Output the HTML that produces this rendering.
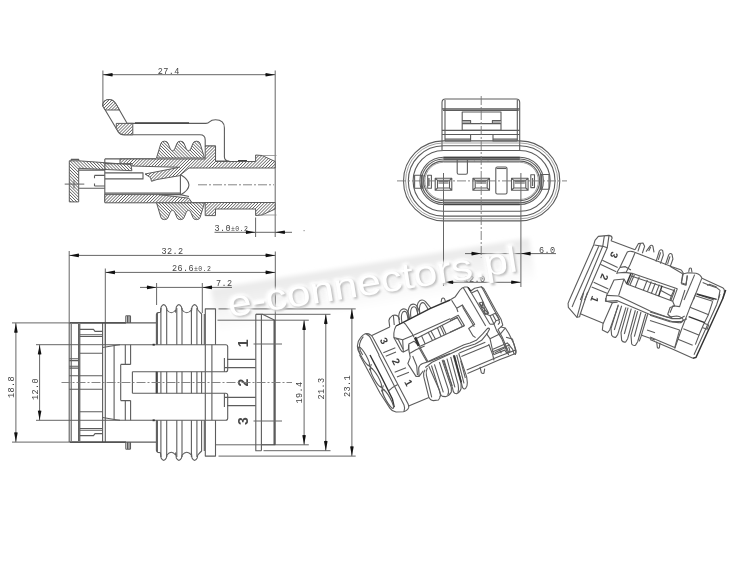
<!DOCTYPE html>
<html><head><meta charset="utf-8"><title>connector drawing</title>
<style>
html,body{margin:0;padding:0;background:#fff;}
svg{display:block;filter:grayscale(1) blur(.3px)}
.l{fill:none;stroke:#5c5c5c;stroke-width:1.1;stroke-linecap:butt;stroke-linejoin:round}
.t{fill:none;stroke:#8a8a8a;stroke-width:.8}
.d{fill:none;stroke:#666;stroke-width:1}
.c{fill:none;stroke:#777;stroke-width:.9;stroke-dasharray:9 2 2 2}
.a{fill:#111;stroke:none}
.w{fill:#fff;stroke:#5c5c5c;stroke-width:1.1;stroke-linejoin:round}
text{font-family:"Liberation Mono","DejaVu Sans Mono",monospace;fill:#444}
.dt{font-size:8.5px;letter-spacing:.4px}
.ws{font-family:"Liberation Sans",Arial,sans-serif;font-size:36.5px}
.nb{font-family:"Liberation Sans",Arial,sans-serif;font-weight:bold;font-size:78px;fill:#3c3c3c;text-anchor:middle}
.n3{font-family:"Liberation Sans",Arial,sans-serif;font-weight:bold;font-size:14px;fill:#4a4a4a;text-anchor:middle}
.h1{fill:url(#hf);stroke:#5c5c5c;stroke-width:1;stroke-linejoin:round}
.h2{fill:url(#hb);stroke:#5c5c5c;stroke-width:1;stroke-linejoin:round}
</style></head><body>
<svg width="750" height="564" viewBox="0 0 750 564">
<defs>
<pattern id="hf" width="2.2" height="2.2" patternUnits="userSpaceOnUse" patternTransform="rotate(-45)"><rect width="2.2" height="2.2" fill="#fff"/><line x1="0" y1="0" x2="2.2" y2="0" stroke="#3a3a3a" stroke-width="1.2"/></pattern>
<pattern id="hb" width="2.2" height="2.2" patternUnits="userSpaceOnUse" patternTransform="rotate(45)"><rect width="2.2" height="2.2" fill="#fff"/><line x1="0" y1="0" x2="2.2" y2="0" stroke="#3a3a3a" stroke-width="1.2"/></pattern>
<path id="ar" d="M0 0 L9.5 -1.8 Q10.3 0 9.5 1.8 Z"/>
</defs>
<rect width="750" height="564" fill="#fff"/>
<!-- BEGIN band -->
<defs>
<linearGradient id="bg" x1="0" y1="0" x2="0" y2="1"><stop offset="0" stop-color="#e9e9e9"/><stop offset=".45" stop-color="#f3f3f3"/><stop offset="1" stop-color="#fff"/></linearGradient>
<filter id="b4" x="-5%" y="-30%" width="110%" height="160%"><feGaussianBlur stdDeviation="2.2"/></filter>
</defs>
<g id="band" transform="translate(229.7 317) rotate(-9.06)"><rect x="-14" y="-30.5" width="322" height="44" fill="url(#bg)" filter="url(#b4)"/></g>
<!-- END band -->

<!-- ============ VIEW 1 : cross-section (top-left) ============ -->
<g id="v1">
<!-- dimension 27.4 -->
<path class="d" d="M102.9 70.5V106 M275.2 70.5V237 M102.9 74.7H275.2"/>
<use href="#ar" class="a" transform="translate(102.9 74.7)"/>
<use href="#ar" class="a" transform="translate(275.2 74.7) scale(-1 1)"/>
<text class="dt" x="168.8" y="74" text-anchor="middle">27.4</text>
<!-- latch -->
<path class="w" d="M102.8 106 Q102.8 99.5 109.5 99.5 Q113.5 99.5 116 104 L127.2 123.4 H206 Q208 123.4 209.5 121.8 Q211.5 119.8 215.5 119.8 Q224.4 119.8 224.4 128 V157 Q224.6 160.8 229 161 H215.5 V146 H205.2 V140 Q205.2 134.8 200 134.8 H124 Q120.5 134.8 118.2 131.8 L102.8 106Z"/>
<path class="h1" d="M102.8 106 Q102.8 99.5 109.5 99.5 Q113.5 99.5 116 104 L119.5 110 H105.2Z"/>
<path class="h1" d="M116.3 123.4H132.8V134.8H124Q120.5 134.8 118.2 131.8L116.3 128.5Z"/>
<path d="M135 123H189 M238 160.6H247" stroke="#444" stroke-width="1.3" fill="none"/>

<!-- cap -->
<path class="h2" d="M69.3 160.8H78.7L131 164.6L131.9 170.7L78.7 168.3V201.9H69.3Z"/>
<path class="l" d="M71.2 160.8V159.4H78.7V160.8"/>
<path class="d" d="M64.7 184.1H84.3 M74 180V188.4"/>
<path class="l" d="M78.7 170.1H104.8 M78.7 188.2H104.8 M94.5 175.4H104.8 M94.5 186H104.8 M94.5 175.4V178.2 M94.5 183.6V186"/>
<!-- housing outer -->
<path class="l" d="M104.8 158.9V201.9 M104.8 158.9H156 M104.8 163.6H120 M104.8 172.9H143V178.9H104.8 M104.8 193.1H180.4"/>
<!-- top wall hatch -->
<path class="h1" d="M120 159H205.2V146H215.5V161.5H255.6V155L262 155.5L275.2 161.5V168H189L179.5 175.7L157 179.5L151.5 181.3L150.5 177.6L145 174L179.5 167.3L132 166V163.6H120Z"/>
<!-- bottom wall hatch -->
<path class="h1" d="M104.8 194.6H159L188.8 198.2L192 202.5H275.2V209L262 215L255.6 215.5V209H215.5V215.6H205.2V202.8H104.8Z"/>
<path class="l" d="M159 194.6H180.4L189 196.5"/>
<!-- seal dome -->
<path class="l" d="M180.4 174.5V195 M180.4 174.5Q197.5 185 180.4 195"/>
<!-- seal ribs -->
<path class="h2" d="M156.5 158 L160.9 143.4 Q161.5 141.2 164.5 141.2 Q167.5 141.2 168.1 143.4 L170.3 149.0 Q172.5 152.5 174.7 149.0 L176.9 143.4 Q177.5 141.2 180.5 141.2 Q183.5 141.2 184.1 143.4 L186.3 149.0 Q188.5 152.5 190.7 149.0 L192.9 143.4 Q193.5 141.2 196.5 141.2 Q199.5 141.2 200.1 143.4 L204.5 158Z"/>
<path class="h2" d="M156.5 202.8 L160.9 217.4 Q161.5 219.6 164.5 219.6 Q167.5 219.6 168.1 217.4 L170.3 212.0 Q172.5 208.5 174.7 212.0 L176.9 217.4 Q177.5 219.6 180.5 219.6 Q183.5 219.6 184.1 217.4 L186.3 212.0 Q188.5 208.5 190.7 212.0 L192.9 217.4 Q193.5 219.6 196.5 219.6 Q199.5 219.6 200.1 217.4 L204.5 202.8Z"/>
<!-- barb thin lines -->
<path class="t" d="M262 155.5H276.5 M262 215H276.5"/>
<!-- center line -->
<path class="c" d="M198 184.8H274"/>
<!-- dim 3.0 -->
<path class="d" d="M255.6 217.5V237 M214.5 232.3H292"/>
<use href="#ar" class="a" transform="translate(255.6 232.3) scale(-1 1)"/>
<use href="#ar" class="a" transform="translate(275.2 232.3)"/>
<text class="dt" x="214.5" y="230.5">3.0<tspan font-size="6.5px">±0.2</tspan></text>
<rect x="303.5" y="230" width="1.2" height="1.2" fill="#999"/>
</g>
<!-- ============ VIEW 2 : front view ============ -->
<g id="v2">
<path class="l" d="M442 150.3V102.5Q442 99 445.5 99H516.2Q519.7 99 519.7 102.5V150.3"/>
<path class="l" d="M445 100V141 M517.3 100V141 M442 108.9H519.7 M443 110.4H518.7 M442 130.4H519.7 M442 134.5H519.7"/>
<path class="l" d="M462.2 112H501V130.4H462.2Z M462.2 120.5H470.6V123.6 M501 120.5H492.4V123.6 M462.2 123.6H501 M463 122H470 M493 122H500"/>
<path class="l" d="M445 139.1H470.6 M445 141H470.6V134.5 M493 139.1H517.3 M517.3 141H493V134.5"/>
<path class="l"  d="M443.5 140.9H519.8A40 40 0 0 1 519.8 220.9H443.5A40 40 0 0 1 443.5 140.9Z"/>
<path class="t"  d="M443.5 143.0H519.8A37.9 37.9 0 0 1 519.8 218.8H443.5A37.9 37.9 0 0 1 443.5 143.0Z"/>
<path class="l"  d="M443.5 145.7H519.8A35.2 35.2 0 0 1 519.8 216.1H443.5A35.2 35.2 0 0 1 443.5 145.7Z"/>
<path class="l"  d="M443.5 150.5H519.8A30.4 30.4 0 0 1 519.8 211.3H443.5A30.4 30.4 0 0 1 443.5 150.5Z"/>
<path class="l"  d="M443.5 157.3H519.8A23.6 23.6 0 0 1 519.8 204.5H443.5A23.6 23.6 0 0 1 443.5 157.3Z"/>
<path class="l"  d="M443.5 159.0H519.8A21.9 21.9 0 0 1 519.8 202.8H443.5A21.9 21.9 0 0 1 443.5 159.0Z"/>
<path class="l"  d="M443.5 161.1H519.8A19.8 19.8 0 0 1 519.8 200.7H443.5A19.8 19.8 0 0 1 443.5 161.1Z"/>
<path class="t"  d="M443.5 162.3H519.8A18.6 18.6 0 0 1 519.8 199.5H443.5A18.6 18.6 0 0 1 443.5 162.3Z"/>
<path d="M443.5 157.6H519.8 M443.5 204.4H519.8" stroke="#444" stroke-width="1.6" fill="none"/>
<path class="l" d="M443.5 159.4H519.8 M443.5 202.3H519.8"/>
<path class="l" d="M457.2 159.7V172.7Q457.2 174.2 458.7 174.2H465.9Q467.4 174.2 467.4 172.7V159.7"/>
<path class="w" d="M495.8 168.5Q495.8 167 497.3 167H505.5Q507 167 507 168.5V192.5Q507 194 505.5 194H497.3Q495.8 194 495.8 192.5Z"/>
<path class="l" d="M496.5 168.5H506.3"/>
<path class="l" d="M414.6 175.3H423V188.3H414.6Z M421.5 175.3V188.3 M427.7 175.3H431.4V188.3H427.7Z M429 178V186"/>
<path class="l" d="M540.2 174.5H549V189.2H540.2Z M541.7 174.5V189.2 M530.8 174.8H534.5V187.6H530.8Z M532.6 178V186"/>
<path class="l" d="M435.2 178.2H451.8V190.2H435.2Z M437.5 180.3H449.5V188H437.5Z M435.2 178.2L437.5 180.3 M451.8 178.2L449.5 180.3 M435.2 190.2L437.5 188 M451.8 190.2L449.5 188"/>
<path d="M438.5 181.3H448.5 M438.5 183H448.5" stroke="#555" stroke-width="1" fill="none"/>
<path class="l" d="M472.9 178.2H489.5V190.2H472.9Z M475.2 180.3H487.2V188H475.2Z M472.9 178.2L475.2 180.3 M489.5 178.2L487.2 180.3 M472.9 190.2L475.2 188 M489.5 190.2L487.2 188"/>
<path d="M476.2 181.3H486.2 M476.2 183H486.2" stroke="#555" stroke-width="1" fill="none"/>
<path class="l" d="M511.5 178.2H528.1V190.2H511.5Z M513.8 180.3H525.8V188H513.8Z M511.5 178.2L513.8 180.3 M528.1 178.2L525.8 180.3 M511.5 190.2L513.8 188 M528.1 190.2L525.8 188"/>
<path d="M514.8 181.3H524.8 M514.8 183H524.8" stroke="#555" stroke-width="1" fill="none"/>
<circle cx="474.5" cy="161" r=".6" fill="#777"/><circle cx="488" cy="161" r=".6" fill="#777"/>
<path class="c" d="M397 180.9H567"/>
<path class="c" d="M481.2 96V257.5"/>
<path class="d" d="M443.5 173V286 M520.9 173V287"/>
<path class="d" d="M465 253.6H556"/>
<use href="#ar" class="a" transform="translate(481.2 253.6) scale(-1 1)"/><use href="#ar" class="a" transform="translate(520.9 253.6)"/>
<text class="dt" x="539" y="252.5">6.0</text>
<path class="d" d="M443.5 282.3H520.9"/>
<use href="#ar" class="a" transform="translate(443.5 282.3)"/><use href="#ar" class="a" transform="translate(520.9 282.3) scale(-1 1)"/>
<text class="dt" x="463.5" y="281.5" font-size="7.5px">12.0</text>
</g>
<!-- ============ VIEW 3 : top view (bottom-left) ============ -->
<g id="v3">
<path class="d" d="M69.2 251V323 M275.3 251.5V445 M69.2 255.4H275.3 M105.3 268.5V345 M105.3 272.4H275.3"/>
<use href="#ar" class="a" transform="translate(69.2 255.4)"/><use href="#ar" class="a" transform="translate(275.3 255.4) scale(-1 1)"/>
<use href="#ar" class="a" transform="translate(105.3 272.4)"/><use href="#ar" class="a" transform="translate(275.3 272.4) scale(-1 1)"/>
<text class="dt" x="172.5" y="254" text-anchor="middle">32.2</text>
<text class="dt" x="172" y="271" >26.6<tspan font-size="6.5px">±0.2</tspan></text>
<path class="d" d="M156.6 283V305 M202.3 283V313 M140 287.4H232"/>
<use href="#ar" class="a" transform="translate(156.6 287.4) scale(-1 1)"/><use href="#ar" class="a" transform="translate(202.3 287.4)"/>
<text class="dt" x="216" y="286">7.2</text>
<path class="d" d="M12 322.9H69.2 M12 442.1H69.2 M15.9 322.9V442.1 M36 344.7H102 M36 420.3H102 M39.6 344.7V420.3"/>
<use href="#ar" class="a" transform="translate(15.9 322.9) rotate(90)"/><use href="#ar" class="a" transform="translate(15.9 442.1) rotate(-90)"/>
<use href="#ar" class="a" transform="translate(39.6 344.7) rotate(90)"/><use href="#ar" class="a" transform="translate(39.6 420.3) rotate(-90)"/>
<text class="dt" transform="translate(13.6 387) rotate(-90)" text-anchor="middle">18.8</text>
<text class="dt" transform="translate(38 389) rotate(-90)" text-anchor="middle">12.0</text>
<path class="d" d="M217.5 320.2H308.8 M215.5 444.8H308.8 M304.1 320.2V444.8 M256 314.3H330.5 M263.5 450.7H330.5 M325.8 314.3V450.7 M218.5 308.9H355.7 M218.5 456.1H355.7 M351.9 308.9V456.1"/>
<use href="#ar" class="a" transform="translate(304.1 320.2) rotate(90)"/><use href="#ar" class="a" transform="translate(304.1 444.8) rotate(-90)"/>
<use href="#ar" class="a" transform="translate(325.8 314.3) rotate(90)"/><use href="#ar" class="a" transform="translate(325.8 450.7) rotate(-90)"/>
<use href="#ar" class="a" transform="translate(351.9 308.9) rotate(90)"/><use href="#ar" class="a" transform="translate(351.9 456.1) rotate(-90)"/>
<text class="dt" transform="translate(302 392.5) rotate(-90)" text-anchor="middle">19.4</text>
<text class="dt" transform="translate(323.8 388.5) rotate(-90)" text-anchor="middle">21.3</text>
<text class="dt" transform="translate(349.9 386) rotate(-90)" text-anchor="middle">23.1</text>
<path class="l" d="M69.2 322.9H156.4 M69.2 442.1H156.4 M69.2 322.9V442.1 M71.2 323.9V441.1 M78.6 323.9V441.1 M79.8 323.9V441.1 M102.6 322.9V442.1 M105.3 322.9V442.1"/>
<path d="M70 322.9H126 M70 442.1H126" stroke="#444" stroke-width="1.4" fill="none"/>
<path class="l" d="M79.8 334.7H102.6 M79.8 430.3H102.6"/>
<path class="l" d="M79.8 336.5H102.6 M79.8 428.5H102.6"/>
<path class="l" d="M79.8 353.2H102.6 M79.8 411.8H102.6"/>
<path class="l" d="M79.8 375.7H102.6 M79.8 389.3H102.6"/>
<path class="l" d="M79.8 329.4H93.5L95 331.4H102.6 M79.8 435.6H93.5L95 433.6H102.6"/>
<path class="l" d="M69.2 375.7H79.8 M69.2 389.3H79.8 M69.2 358.8H78.6 M69.2 360.6H78.6 M69.2 366.3H78.6 M69.2 368.1H78.6"/>
<path class="l" d="M125.8 322.9V316.5Q125.8 315.8 126.5 315.8H129.8Q130.5 315.8 130.5 316.5V322.9 M127.5 316V322.9 M129 316V322.9"/>
<path class="l" d="M125.8 442.1V448.5Q125.8 449.2 126.5 449.2H129.8Q130.5 449.2 130.5 448.5V442.1 M127.5 449.0V442.1 M129 449.0V442.1"/>
<path class="l" d="M102.6 347.5L116 345.3L120 344.7H225.7Q227.7 344.7 227.7 346.7V369.7Q227.7 371.7 225.7 371.7H132.4"/>
<path class="l" d="M102.6 344.7H120 M114.1 345.5V382.5 M120.7 364.4V382.5 M120.7 364.4H130.6 M125.3 344.7V364.4 M130.6 344.7V364.4"/>
<path class="l" d="M205.3 344.7V371.7 M211.9 344.7V371.7 M224.4 358.0V371.7"/>
<path class="l" d="M227 359.4H255.7 M224.4 367.6H255.7"/>
<rect x="152.6" y="343.8" width="2.2" height="1.8" fill="#333"/>
<path class="l" d="M102.6 417.5L116 419.7L120 420.3H225.7Q227.7 420.3 227.7 418.3V395.3Q227.7 393.3 225.7 393.3H132.4"/>
<path class="l" d="M102.6 420.3H120 M114.1 419.5V382.5 M120.7 400.6V382.5 M120.7 400.6H130.6 M125.3 420.3V400.6 M130.6 420.3V400.6"/>
<path class="l" d="M205.3 420.3V393.3 M211.9 420.3V393.3 M224.4 407.0V393.3"/>
<path class="l" d="M227 405.6H255.7 M224.4 397.4H255.7"/>
<rect x="152.6" y="419.4" width="2.2" height="1.8" fill="#333"/>
<path class="l" d="M132.4 371.7V393.3"/>
<path class="l" d="M156.4 344.7V314.5Q156.6 313.0 158 312.6 L160.5 312.2 L161.1 307.0 Q163.7 302.2 166.3 307.0 L166.9 310.0 Q171.3 315.5 175.7 310.0 L175.7 312.2 L176.3 307.0 Q178.9 302.2 181.5 307.0 L182.1 310.0 Q186.8 315.5 191.4 310.0 L191.4 312.2 L192.0 307.0 Q194.6 302.2 197.2 307.0 L197.8 310.0 Q200 312.5 201.6 314.0 V344.7"/>
<path class="l" d="M156.4 420.3V450.5Q156.6 452.0 158 452.4 L160.5 452.8 L161.1 458.0 Q163.7 462.8 166.3 458.0 L166.9 455.0 Q171.3 449.5 175.7 455.0 L175.7 452.8 L176.3 458.0 Q178.9 462.8 181.5 458.0 L182.1 455.0 Q186.8 449.5 191.4 455.0 L191.4 452.8 L192.0 458.0 Q194.6 462.8 197.2 458.0 L197.8 455.0 Q200 452.5 201.6 451.0 V420.3"/>
<path class="l" d="M157.4 313V344.7 M157.4 371.7V393.3 M157.4 420.3V452.0"/>
<path class="l" d="M160.9 308V344.7 M160.9 371.7V393.3 M160.9 420.3V457.0"/>
<path class="l" d="M166.7 308V344.7 M166.7 371.7V393.3 M166.7 420.3V457.0"/>
<path class="l" d="M176.8 308V344.7 M176.8 371.7V393.3 M176.8 420.3V457.0"/>
<path class="l" d="M182 308V344.7 M182 371.7V393.3 M182 420.3V457.0"/>
<path class="l" d="M191.4 308V344.7 M191.4 371.7V393.3 M191.4 420.3V457.0"/>
<path class="l" d="M196.9 308V344.7 M196.9 371.7V393.3 M196.9 420.3V457.0"/>
<path class="l" d="M201.6 371.7V393.3 M204.3 314V344.7 M204.3 420.3V451.0"/>
<path d="M156.4 371.7V393.3" stroke="#444" stroke-width="1.5" fill="none"/>
<path class="l" d="M205.3 344.7V308.9H215.5V344.7 M205.3 420.3V456.1H215.5V420.3 M205.3 371.7V393.3 M211.9 371.7V393.3"/>
<path class="l" d="M255.8 314.3V450.7H261.4 M261.4 314.3V450.7 M255.8 314.3H262.5L275.3 320.5 M261.4 444.8H275.3"/>
<path d="M274.2 320.2V444.8" stroke="#444" stroke-width="1.3" fill="none"/>
<path class="d" d="M253.5 344H282 M253.5 421.0H282"/>
<g class="n3"><text class="n3" transform="translate(248.3 343.4) rotate(-90)">1</text><text class="n3" transform="translate(248.3 382.5) rotate(-90)">2</text><text class="n3" transform="translate(248.3 421) rotate(-90)">3</text></g>
<path class="c" d="M61.5 382.5H292"/>
</g>
<!-- BEGIN isoA -->
<!-- iso A -->
<g id="isoA">
<g transform="translate(350 280) scale(0.133333)">
<path class="l" vector-effect="non-scaling-stroke" d="M78 562 L60 525 Q50 495 62 462 Q82 420 112 404 Q135 398 155 412 Q168 422 178 442 L243 562"/>
<path class="l" vector-effect="non-scaling-stroke" d="M122 406 Q142 412 152 432 L218 562"/>
<path class="l" vector-effect="non-scaling-stroke" d="M100 425 Q78 450 72 480 Q68 505 78 530 L95 562"/>
<path class="l" vector-effect="non-scaling-stroke" d="M160 418 L298 352"/>
<path class="l" vector-effect="non-scaling-stroke" d="M298 352 L292 305 Q296 280 318 267 Q340 258 358 270 Q370 282 372 300"/>
<path class="l" vector-effect="non-scaling-stroke" d="M325 264 L332 338"/>
<path class="l" vector-effect="non-scaling-stroke" d="M372 332 L366 290 Q362 245 384 224 Q408 208 428 228 Q442 250 448 294"/>
<path class="l" vector-effect="non-scaling-stroke" d="M390 322 Q378 262 396 240 Q412 228 424 246 Q432 265 436 300"/>
<path class="l" vector-effect="non-scaling-stroke" d="M440 298 L436 262 Q432 212 454 188 Q478 172 500 192 Q515 215 524 254"/>
<path class="l" vector-effect="non-scaling-stroke" d="M458 290 Q448 232 464 208 Q482 192 496 212 Q506 235 510 262"/>
<path class="l" vector-effect="non-scaling-stroke" d="M508 262 L504 225 Q498 178 522 156 Q545 142 566 162 Q590 190 608 212"/>
<path class="l" vector-effect="non-scaling-stroke" d="M524 255 Q515 198 532 176 Q548 162 562 180 Q576 200 586 222"/>
<path class="l" vector-effect="non-scaling-stroke" d="M683 168 L688 142 Q698 130 708 140 L716 160"/>
<path class="l" vector-effect="non-scaling-stroke" d="M345 345 Q331 370 329 400 L329 432 L378 522 Q388 540 400 540"/>
<path class="l" vector-effect="non-scaling-stroke" d="M329 432 L395 448 L480 412 L750 290"/>
<path class="l" vector-effect="non-scaling-stroke" d="M400 318 L415 330 L466 402 L480 430"/>
<path class="l" vector-effect="non-scaling-stroke" d="M345 440 L362 447 L398 520"/>
<path class="l" vector-effect="non-scaling-stroke" d="M395 448 L400 540 L438 522 L440 485"/>
<path class="l" vector-effect="non-scaling-stroke" d="M452 580 L442 530 L441 480 L480 459 L522 498 L858 344"/>
<path class="l" vector-effect="non-scaling-stroke" d="M515 505 L578 615"/>
<path class="l" vector-effect="non-scaling-stroke" d="M494 440 L809 280"/>
<path class="l" vector-effect="non-scaling-stroke" d="M536 417 L564 480 M585 390 L620 456 M606 380 L641 445 M655 356 L683 424 M676 346 L707 412 M690 340 L721 405"/>
<path class="l" vector-effect="non-scaling-stroke" d="M250 545 L340 508"/>
<path vector-effect="non-scaling-stroke" fill="none" stroke="#333" stroke-width="1.4" d="M345 345 L410 312 L600 215 L750 150"/>
<path vector-effect="non-scaling-stroke" fill="none" stroke="#333" stroke-width="1.4" d="M484 432 L512 496 M492 428 L520 492"/>
<text transform="translate(232 470) rotate(62)" class="nb">3</text></g>
<g transform="translate(350 355) scale(0.133333)">
<path class="l" vector-effect="non-scaling-stroke" d="M72 0 L225 285 L300 400 Q315 422 345 428 L400 426 Q432 418 440 395 Q442 380 435 365 L243 0"/>
<path class="l" vector-effect="non-scaling-stroke" d="M215 0 L405 375 Q415 400 405 424"/>
<path class="l" vector-effect="non-scaling-stroke" d="M132 72 L172 108 M160 68 L146 114 M222 232 L262 268 M250 228 L236 274"/>
<path class="l" vector-effect="non-scaling-stroke" d="M292 268 Q320 240 358 222"/>
<path class="l" vector-effect="non-scaling-stroke" d="M268 10 L345 -22 M335 130 L420 95 M352 165 L442 130"/>
<path class="l" vector-effect="non-scaling-stroke" d="M440 382 L592 318"/>
<path class="l" vector-effect="non-scaling-stroke" d="M452 18 L434 64 L442 78 L495 160 L518 160 L515 96 Q520 74 545 64 L600 46 L750 -12"/>
<path class="l" vector-effect="non-scaling-stroke" d="M470 8 L500 80 L506 150"/>
<path class="l" vector-effect="non-scaling-stroke" d="M518 160 L550 118"/>
<path vector-effect="non-scaling-stroke" fill="none" stroke="#333" stroke-width="1.4" d="M150 0 L236 165 L318 330 L332 392"/>
<ellipse cx="105" cy="10" rx="80" ry="17" transform="rotate(60.6 105 10)" class="l" vector-effect="non-scaling-stroke"/><ellipse cx="195" cy="170" rx="80" ry="17" transform="rotate(60.6 195 170)" class="l" vector-effect="non-scaling-stroke"/><ellipse cx="285" cy="330" rx="80" ry="17" transform="rotate(60.6 285 330)" class="l" vector-effect="non-scaling-stroke"/><text transform="translate(322 62) rotate(62)" class="nb">2</text><text transform="translate(415 222) rotate(62)" class="nb">1</text></g>
<g transform="translate(450 280) scale(0.133333)">
<path class="l" vector-effect="non-scaling-stroke" d="M0 150 L40 125 L75 75 Q90 55 110 52 L130 52 Q142 58 150 78 L160 95"/>
<path class="l" vector-effect="non-scaling-stroke" d="M100 58 L268 345"/>
<path class="l" vector-effect="non-scaling-stroke" d="M135 55 L300 332"/>
<path class="l" vector-effect="non-scaling-stroke" d="M12 152 L50 212 L93 187 L185 332 L140 364 L172 418 L192 432"/>
<path class="l" vector-effect="non-scaling-stroke" d="M50 212 L60 240 M93 187 L100 212 L182 350"/>
<path class="l" vector-effect="non-scaling-stroke" d="M0 296 L62 265 L108 342 L0 392"/>
<path class="l" vector-effect="non-scaling-stroke" d="M0 308 L55 282 L92 345"/>
<path class="l" vector-effect="non-scaling-stroke" d="M0 332 L0 332"/>
<path class="l" vector-effect="non-scaling-stroke" d="M155 82 L185 62 L235 50 Q255 58 265 85 L345 230 L382 292 L396 338 L382 352 L415 360 L440 400 L480 480 L496 532 L490 562"/>
<path class="l" vector-effect="non-scaling-stroke" d="M165 95 L205 76 L218 100 L252 172 L262 250 L300 268 L330 330"/>
<path class="l" vector-effect="non-scaling-stroke" d="M235 50 L250 75 L325 215 L360 275 L372 320 L360 335"/>
<path class="l" vector-effect="non-scaling-stroke" d="M218 172 L245 165 L290 250 L262 258 Z M222 176 L285 250 M245 168 L240 215 L265 255"/>
<path class="l" vector-effect="non-scaling-stroke" d="M300 268 L340 250 L372 300 M320 258 L345 305 L330 330 M345 305 L375 295"/>
<path class="l" vector-effect="non-scaling-stroke" d="M300 332 L330 330 L350 380 L388 440 L420 520 L440 562"/>
<path class="l" vector-effect="non-scaling-stroke" d="M382 352 L360 372 L392 430 L430 520"/>
<path class="l" vector-effect="non-scaling-stroke" d="M272 400 L300 440 L322 540 L330 562"/>
<path class="l" vector-effect="non-scaling-stroke" d="M300 440 L380 402 L415 360"/>
<path class="l" vector-effect="non-scaling-stroke" d="M322 520 L430 472 L470 520 L482 560"/>
<path class="l" vector-effect="non-scaling-stroke" d="M335 545 L420 505 L440 540"/>
<path vector-effect="non-scaling-stroke" fill="none" stroke="#333" stroke-width="1.4" d="M135 55 L155 82"/>
</g>
<g transform="translate(430 340) scale(0.133333)">
<path class="l" vector-effect="non-scaling-stroke" d="M570 -20 L618 -8 L640 70 L645 100"/>
<path class="l" vector-effect="non-scaling-stroke" d="M440 30 L470 110 L480 152"/>
<path class="l" vector-effect="non-scaling-stroke" d="M470 88 L600 36"/>
<path class="l" vector-effect="non-scaling-stroke" d="M480 108 L560 76 L575 96 L600 86 L590 50"/>
<path class="l" vector-effect="non-scaling-stroke" d="M520 72 L535 100"/>
<path class="l" vector-effect="non-scaling-stroke" d="M375 202 L385 245 Q395 255 405 248 L410 215"/>
</g>
<g transform="translate(400 330) scale(0.133333)">
<path class="l" vector-effect="non-scaling-stroke" d="M150 130 L210 238"/>
<path class="l" vector-effect="non-scaling-stroke" d="M75 175 L120 148 L185 120"/>
<path class="l" vector-effect="non-scaling-stroke" d="M188 298 Q172 320 178 350 L215 500 Q225 528 250 530 L288 525 Q302 515 300 492"/>
<path class="l" vector-effect="non-scaling-stroke" d="M205 285 Q192 310 198 340 L238 505"/>
<path class="l" vector-effect="non-scaling-stroke" d="M236 266 L300 470 Q305 492 320 498 L340 500 Q372 492 385 465 L385 432 L316 226"/>
<path class="l" vector-effect="non-scaling-stroke" d="M258 258 L325 468 M295 240 L362 445 Q368 470 358 490"/>
<path class="l" vector-effect="non-scaling-stroke" d="M330 226 L395 440 Q398 468 410 474 L425 478 Q452 466 458 440 L458 402 L400 192"/>
<path class="l" vector-effect="non-scaling-stroke" d="M352 214 L412 430 M380 202 L436 410 Q442 440 435 468"/>
<path class="l" vector-effect="non-scaling-stroke" d="M410 192 L466 420 Q470 442 482 442 L492 438 Q506 420 505 395 L500 352 L440 174"/>
<path class="l" vector-effect="non-scaling-stroke" d="M425 186 L480 400 M455 230 L490 360"/>
<path class="l" vector-effect="non-scaling-stroke" d="M500 300 L750 195 L865 151"/>
<path class="l" vector-effect="non-scaling-stroke" d="M506 326 L750 222 L870 175"/>
<path class="l" vector-effect="non-scaling-stroke" d="M216 272 L296 452 L306 500"/>
<path class="l" vector-effect="non-scaling-stroke" d="M322 222 L392 420"/>
<path class="l" vector-effect="non-scaling-stroke" d="M460 198 L668 112"/>
<path class="l" vector-effect="non-scaling-stroke" d="M445 172 L640 92"/>
<path vector-effect="non-scaling-stroke" fill="none" stroke="#333" stroke-width="1.4" d="M404 188 L460 392"/>
</g>
<path class="l" d="M428.7 361.3 L464 344.8 L470 342.9 L476.3 340.3 L482.7 333.9 L486.9 329.1 Q488.5 327.2 489.6 329.1 L486.9 333.9 L481.6 340.3 L475.2 344 L464 347.5 L432 362.3 L425.3 367.5"/>
</g>
<!-- END isoA -->
<!-- BEGIN wm -->
<defs>
<filter id="b3" x="-10%" y="-50%" width="120%" height="200%"><feGaussianBlur stdDeviation="1.3"/></filter>
<filter id="b1" x="-10%" y="-50%" width="120%" height="200%"><feGaussianBlur stdDeviation="1.0"/></filter>
</defs>
<g id="wm" transform="translate(229.7 317) rotate(-9.06) scale(1.173 1)">
<text class="ws" style="fill:#fff;stroke:#fff;stroke-width:3.5;stroke-linejoin:round;opacity:.85" filter="url(#b3)">e-connectors.pl</text>
<text class="ws" x="1.2" y="1.8" style="fill:#b8b8b8" filter="url(#b1)">e-connectors.pl</text>
<text class="ws" style="fill:#fff">e-connectors.pl</text>
</g>
<!-- END wm -->
<!-- BEGIN isoB -->
<g id="isoB">
<g transform="translate(555 225) scale(0.133333)">
<path class="l" vector-effect="non-scaling-stroke" d="M108 562 L290 150 L300 115 L325 85 L405 78 Q430 82 428 100 L420 118"/>
<path class="l" vector-effect="non-scaling-stroke" d="M150 562 L328 160"/>
<path class="l" vector-effect="non-scaling-stroke" d="M190 562 L358 160 L370 82"/>
<path class="l" vector-effect="non-scaling-stroke" d="M222 562 L392 170 L405 80"/>
<path class="l" vector-effect="non-scaling-stroke" d="M295 150 L360 160 L392 170"/>
<path class="l" vector-effect="non-scaling-stroke" d="M420 118 L600 185"/>
<path class="l" vector-effect="non-scaling-stroke" d="M355 265 L470 318"/>
<path class="l" vector-effect="non-scaling-stroke" d="M340 295 L460 350"/>
<path class="l" vector-effect="non-scaling-stroke" d="M290 430 L400 480"/>
<path class="l" vector-effect="non-scaling-stroke" d="M275 465 L390 512"/>
<path class="l" vector-effect="non-scaling-stroke" d="M600 185 L625 140 L660 135 L672 160 L655 212"/>
<path class="l" vector-effect="non-scaling-stroke" d="M642 137 L622 198"/>
<text transform="translate(418 215) rotate(111)" class="nb">3</text><text transform="translate(345 380) rotate(111)" class="nb">2</text><text transform="translate(272 548) rotate(111)" class="nb">1</text></g>
<g transform="translate(650 225) scale(0.133333)">
<path class="l" vector-effect="non-scaling-stroke" d="M-30 200 L0 158 Q12 145 22 160 L30 205"/>
<path class="l" vector-effect="non-scaling-stroke" d="M-10 195 L5 165"/>
<path class="l" vector-effect="non-scaling-stroke" d="M45 275 L70 195 Q82 178 95 192 L100 225 L78 290"/>
<path class="l" vector-effect="non-scaling-stroke" d="M62 262 L80 205"/>
<path class="l" vector-effect="non-scaling-stroke" d="M115 300 L140 225 Q152 205 165 220 L172 255 L152 310"/>
<path class="l" vector-effect="non-scaling-stroke" d="M132 292 L150 235"/>
<path class="l" vector-effect="non-scaling-stroke" d="M150 310 L245 365"/>
<path class="l" vector-effect="non-scaling-stroke" d="M290 352 L295 328 Q302 318 310 326 L315 356"/>
<path class="l" vector-effect="non-scaling-stroke" d="M235 440 L245 368 L285 358 L345 362 Q380 372 390 400"/>
<path class="l" vector-effect="non-scaling-stroke" d="M235 440 L270 452 L280 380"/>
<path class="l" vector-effect="non-scaling-stroke" d="M335 372 L255 562"/>
<path class="l" vector-effect="non-scaling-stroke" d="M388 400 L325 562"/>
<path class="l" vector-effect="non-scaling-stroke" d="M390 400 L545 470 Q562 482 558 505 L542 562"/>
<path class="l" vector-effect="non-scaling-stroke" d="M395 432 L440 450 L500 470 L525 490 L512 562"/>
<path class="l" vector-effect="non-scaling-stroke" d="M430 455 L445 445 L500 465"/>
<path class="l" vector-effect="non-scaling-stroke" d="M352 520 L480 562"/>
</g>
<g transform="translate(600 250) scale(0.133333)">
<path class="l" vector-effect="non-scaling-stroke" d="M125 180 L132 160 L150 130 L190 45 L205 15 Q220 5 245 12 L540 125 L610 150"/>
<path class="l" vector-effect="non-scaling-stroke" d="M128 172 L185 168 L240 175 L580 290"/>
<path class="l" vector-effect="non-scaling-stroke" d="M150 130 L190 125 L232 150"/>
<path class="l" vector-effect="non-scaling-stroke" d="M262 22 L225 110 L196 166"/>
<path class="l" vector-effect="non-scaling-stroke" d="M235 195 L560 305 L530 382"/>
<path class="l" vector-effect="non-scaling-stroke" d="M580 290 L545 385 L200 255"/>
<path class="l" vector-effect="non-scaling-stroke" d="M245 180 L212 258 M258 185 L225 262 M295 200 L265 278 M355 224 L325 302 M385 236 L355 314 M415 248 L385 326 M445 260 L415 338"/>
<path class="l" vector-effect="non-scaling-stroke" d="M40 385 L50 340 L75 290 L105 225 L180 218 L200 255"/>
<path class="l" vector-effect="non-scaling-stroke" d="M180 218 L140 340"/>
<path class="l" vector-effect="non-scaling-stroke" d="M50 340 L140 345 L380 460 L540 515 L600 515 L635 495"/>
<path class="l" vector-effect="non-scaling-stroke" d="M40 385 L130 380 L370 482 L540 537 L610 537 L652 515"/>
<path class="l" vector-effect="non-scaling-stroke" d="M610 150 L625 175 L610 245 L645 258 L655 190"/>
<path class="l" vector-effect="non-scaling-stroke" d="M545 385 L560 420 L525 432 L508 482 L540 512"/>
<path vector-effect="non-scaling-stroke" fill="none" stroke="#333" stroke-width="1.4" d="M232 176 L200 254"/>
<path vector-effect="non-scaling-stroke" fill="none" stroke="#333" stroke-width="1.4" d="M465 268 L440 346"/>
</g>
<g transform="translate(555 290) scale(0.133333)">
<path class="l" vector-effect="non-scaling-stroke" d="M108 75 L98 100 L100 130 L165 205 L185 200 L190 178"/>
<path class="l" vector-effect="non-scaling-stroke" d="M165 205 L215 20"/>
<path class="l" vector-effect="non-scaling-stroke" d="M190 180 L245 15"/>
<path class="l" vector-effect="non-scaling-stroke" d="M150 74 L128 128"/>
<path class="l" vector-effect="non-scaling-stroke" d="M190 178 L362 250"/>
<path class="l" vector-effect="non-scaling-stroke" d="M380 60 L385 85 L430 95 L470 92"/>
<path class="l" vector-effect="non-scaling-stroke" d="M430 95 L360 255 L355 300 L395 320 L410 300 L475 115"/>
<path class="l" vector-effect="non-scaling-stroke" d="M475 110 L420 290 L425 340 Q435 358 455 355 L470 335 L532 130"/>
<path class="l" vector-effect="non-scaling-stroke" d="M500 118 L445 300"/>
<path class="l" vector-effect="non-scaling-stroke" d="M548 132 L495 320 L500 378 Q510 395 530 390 L545 365 L603 152"/>
<path class="l" vector-effect="non-scaling-stroke" d="M572 140 L520 330"/>
<path class="l" vector-effect="non-scaling-stroke" d="M620 158 L570 340 L575 405 Q585 420 603 415 L620 388 L680 178"/>
<path class="l" vector-effect="non-scaling-stroke" d="M645 165 L595 350"/>
<path class="l" vector-effect="non-scaling-stroke" d="M695 182 L645 350 L632 385"/>
<path class="l" vector-effect="non-scaling-stroke" d="M650 340 L750 375"/>
<path class="l" vector-effect="non-scaling-stroke" d="M690 300 L750 320"/>
</g>
<g transform="translate(650 290) scale(0.133333)">
<path class="l" vector-effect="non-scaling-stroke" d="M525 30 L500 110 L330 485"/>
<path class="l" vector-effect="non-scaling-stroke" d="M345 45 L470 85"/>
<path class="l" vector-effect="non-scaling-stroke" d="M300 130 L440 185"/>
<path class="l" vector-effect="non-scaling-stroke" d="M250 290 L370 340"/>
<path class="l" vector-effect="non-scaling-stroke" d="M210 370 L320 415"/>
<path class="l" vector-effect="non-scaling-stroke" d="M345 25 L300 130 L240 285 L185 440"/>
<path class="l" vector-effect="non-scaling-stroke" d="M470 85 L438 185 L400 262 L375 320 L340 410"/>
<path class="l" vector-effect="non-scaling-stroke" d="M405 250 L440 262 L428 295 L392 282"/>
<path class="l" vector-effect="non-scaling-stroke" d="M262 0 L222 125 L172 118 L150 170"/>
<path class="l" vector-effect="non-scaling-stroke" d="M75 0 L160 45 L185 -10"/>
<path class="l" vector-effect="non-scaling-stroke" d="M160 45 L150 75"/>
<path class="l" vector-effect="non-scaling-stroke" d="M0 165 L130 205 L200 195 Q240 200 250 225 Q240 250 215 245 L150 238 L0 190"/>
<path class="l" vector-effect="non-scaling-stroke" d="M0 228 L222 300"/>
<path class="l" vector-effect="non-scaling-stroke" d="M0 352 L185 432"/>
<path class="l" vector-effect="non-scaling-stroke" d="M0 372 L180 448 L322 512"/>
<path class="l" vector-effect="non-scaling-stroke" d="M222 300 L185 435"/>
<path class="l" vector-effect="non-scaling-stroke" d="M50 388 L55 430 Q62 440 70 434 L75 396"/>
<path vector-effect="non-scaling-stroke" fill="none" stroke="#333" stroke-width="1.4" d="M568 0 L548 60 L345 505 L322 512"/>
<path vector-effect="non-scaling-stroke" fill="none" stroke="#333" stroke-width="1.4" d="M350 30 L500 70"/>
<path vector-effect="non-scaling-stroke" fill="none" stroke="#333" stroke-width="1.4" d="M290 200 L410 245"/>
</g>
</g>
<!-- END isoB -->
</svg>
</body></html>
